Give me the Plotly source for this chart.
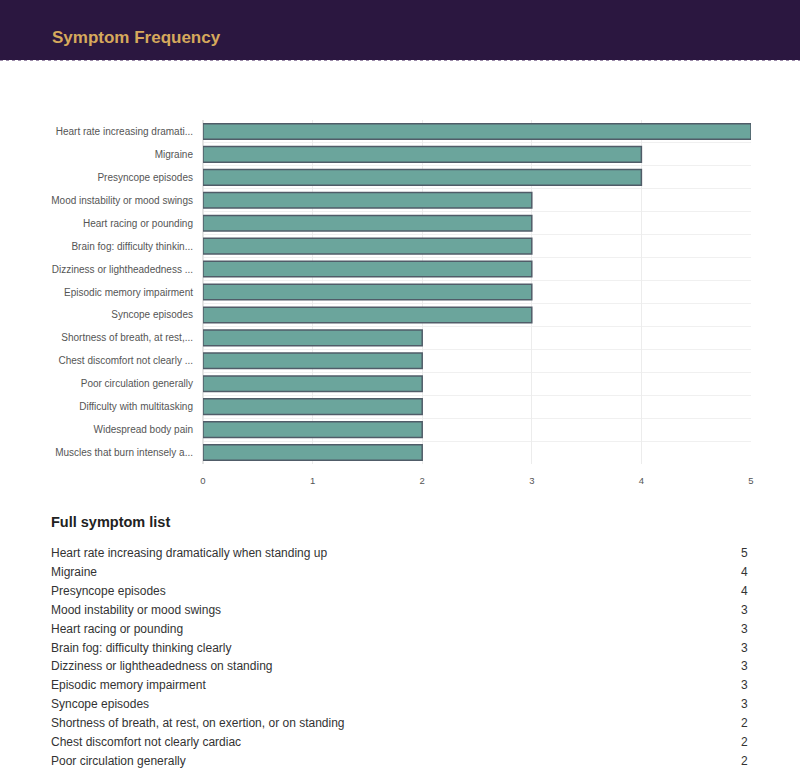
import plotly.graph_objects as go

symptoms = [
    "Heart rate increasing dramatically when standing up",
    "Migraine",
    "Presyncope episodes",
    "Mood instability or mood swings",
    "Heart racing or pounding",
    "Brain fog: difficulty thinking clearly",
    "Dizziness or lightheadedness on standing",
    "Episodic memory impairment",
    "Syncope episodes",
    "Shortness of breath, at rest, on exertion, or on standing",
    "Chest discomfort not clearly cardiac",
    "Poor circulation generally",
    "Difficulty with multitasking",
    "Widespread body pain",
    "Muscles that burn intensely after exertion",
]
counts = [5, 4, 4, 3, 3, 3, 3, 3, 3, 2, 2, 2, 2, 2, 2]
x_ticks = [0, 1, 2, 3, 4, 5]

def short(s, n=29, limit=32):
    return s if len(s) <= limit else s[:n] + "..."

labels = [short(s) for s in symptoms]
pos = list(range(len(symptoms)))

W, H = 800, 775
L, R, T, B = 203, 751, 120, 464

def px(x):
    return (x - L) / (R - L)

def py(y):
    return (B - y) / (B - T)

FONT = "Liberation Sans, Arial, Helvetica, sans-serif"

fig = go.Figure(go.Bar(
    x=counts, y=pos, orientation="h",
    marker=dict(color="#6ba59c", line=dict(color="#505c68", width=1.5)),
    width=0.68,
    hoverinfo="x+y",
))

fig.update_layout(
    width=W, height=H,
    margin=dict(l=L, r=W - R, t=T, b=H - B),
    paper_bgcolor="white", plot_bgcolor="white",
    showlegend=False,
    font=dict(family=FONT, color="#444"),
    xaxis=dict(range=[0, 5], tickvals=x_ticks, showgrid=True, gridcolor="#ececec",
               zeroline=True, zerolinecolor="#e4e4e4", tickfont=dict(size=9.5, color="#555"),
               ticks="", ticklen=0, ticklabelstandoff=9, fixedrange=True),
    yaxis=dict(range=[len(symptoms) - 0.5, -0.5], tickvals=pos, ticktext=labels,
               showgrid=False, zeroline=False, tickfont=dict(size=10, color="#555"),
               ticks="", ticklabelstandoff=9,
               minor=dict(tickvals=[p + 0.5 for p in pos[:-1]], showgrid=True,
                          gridcolor="#f0f0f0", ticks="")),
)

shapes = [
    dict(type="rect", xref="paper", yref="paper", x0=px(0), x1=px(W), y0=py(60), y1=py(0),
         fillcolor="#2b1740", line=dict(width=0), layer="above"),
    dict(type="line", xref="paper", yref="paper", x0=px(0), x1=px(W), y0=py(60.5), y1=py(60.5),
         line=dict(color="#9a8aa8", width=1, dash="dot"), layer="above"),
]
fig.update_layout(shapes=shapes)

ann = [
    dict(text="<b>Symptom Frequency</b>", x=px(50), y=py(37), xref="paper", yref="paper",
         xanchor="left", yanchor="middle", showarrow=False,
         font=dict(size=17, color="#d6a95c", family=FONT)),
    dict(text="<b>Full symptom list</b>", x=px(49), y=py(522), xref="paper", yref="paper",
         xanchor="left", yanchor="middle", showarrow=False,
         font=dict(size=14.5, color="#222", family=FONT)),
]
for i, (s, c) in enumerate(zip(symptoms, counts)):
    y = 553 + i * 18.9
    ann.append(dict(text=s, x=px(49), y=py(y), xref="paper", yref="paper",
                    xanchor="left", yanchor="middle", showarrow=False,
                    font=dict(size=12, color="#333", family=FONT)))
    ann.append(dict(text=str(c), x=px(750), y=py(y), xref="paper", yref="paper",
                    xanchor="right", yanchor="middle", showarrow=False,
                    font=dict(size=12, color="#333", family=FONT)))
fig.update_layout(annotations=ann)

fig.write_html("out.html", config={"displayModeBar": False},
               post_script="document.body.style.margin='0';document.body.style.overflow='hidden';")
